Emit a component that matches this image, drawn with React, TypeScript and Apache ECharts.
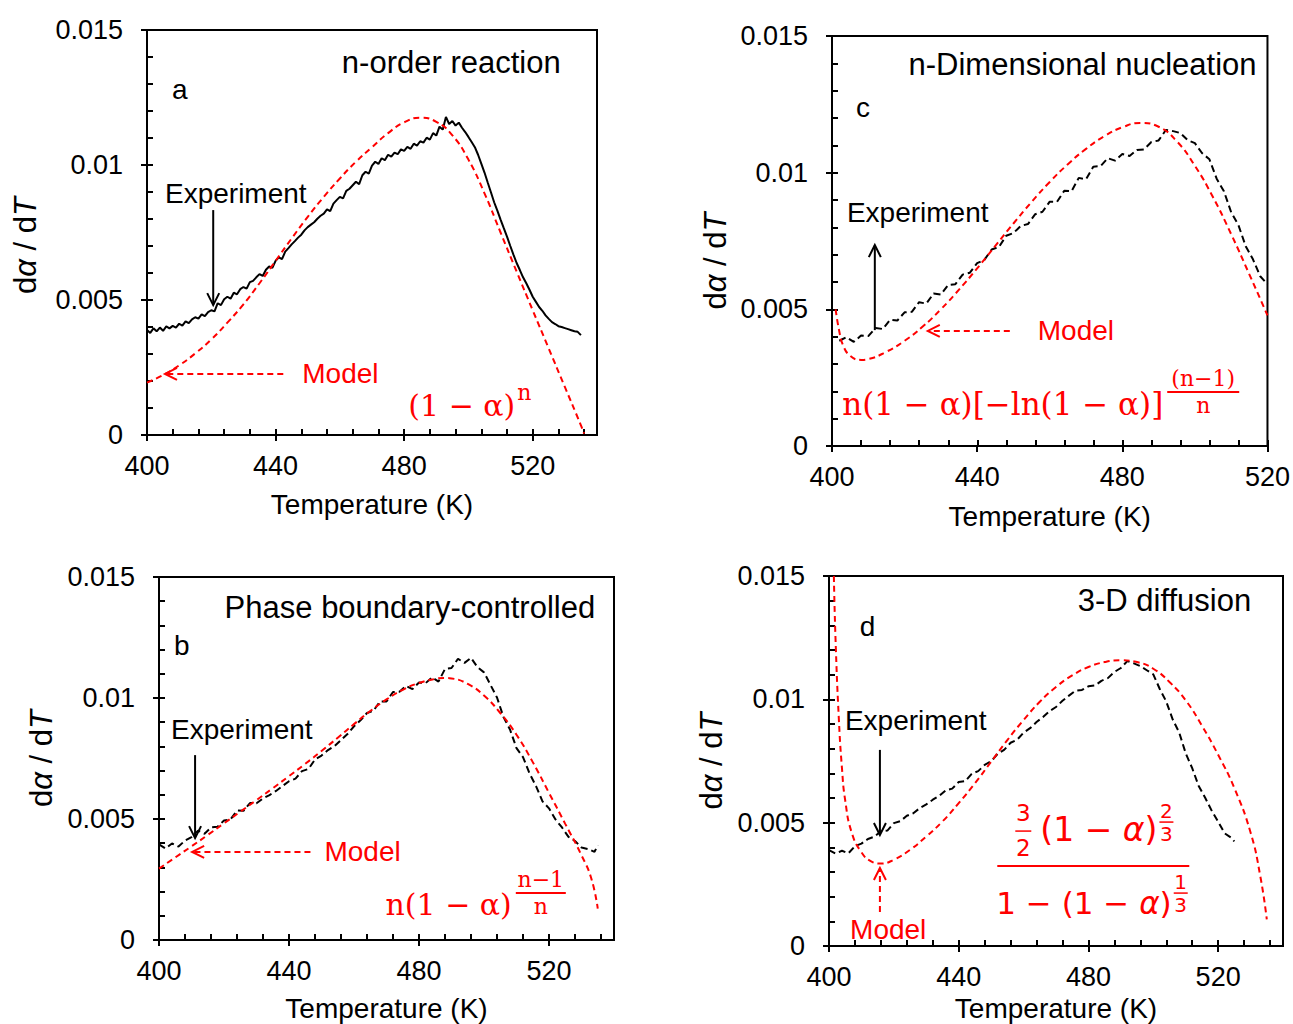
import React, { useEffect, useRef } from "react";
import * as echarts from "echarts";

// ---------- tick values ----------
const xMajorTicks = [400, 440, 480, 520];
const xLabel = "Temperature (K)";
const yLabel = "d{i|α} / d{i|T}";

// ---------- panel a : n-order reaction ----------
const expA = [
  [400, 0.00389], [401, 0.00378], [402, 0.00395], [403, 0.00384], [404, 0.00398], [405, 0.00386],
  [406, 0.00402], [407, 0.00395], [408, 0.00404], [409, 0.00398], [410, 0.00412], [411, 0.00405],
  [412, 0.00421], [413, 0.00414], [414, 0.00428], [415, 0.00436], [416, 0.00431], [417, 0.00447],
  [418, 0.0044], [419, 0.00455], [420, 0.00462], [421, 0.00458], [422, 0.00488], [423, 0.00481],
  [424, 0.00503], [425, 0.00512], [426, 0.00505], [427, 0.00527], [428, 0.00521], [429, 0.0054],
  [430, 0.00548], [431, 0.00542], [432, 0.00566], [433, 0.00571], [434, 0.00584], [435, 0.00596],
  [436, 0.00589], [437, 0.00612], [438, 0.00624], [439, 0.00619], [440, 0.00645], [441, 0.00658],
  [442, 0.00651], [443, 0.00679], [444, 0.00692], [445, 0.00706], [446, 0.00718], [447, 0.00731],
  [448, 0.00742], [449, 0.00758], [450, 0.0077], [451, 0.00779], [452, 0.00788], [453, 0.00801],
  [454, 0.00812], [455, 0.0082], [456, 0.00836], [457, 0.00829], [458, 0.00857], [459, 0.0087],
  [460, 0.00882], [461, 0.00876], [462, 0.00904], [463, 0.00912], [464, 0.00925], [465, 0.00938],
  [466, 0.00929], [467, 0.00962], [468, 0.00975], [469, 0.00968], [470, 0.00998], [471, 0.01012],
  [472, 0.01004], [473, 0.01025], [474, 0.01018], [475, 0.01038], [476, 0.01031], [477, 0.01046],
  [478, 0.0104], [479, 0.01058], [480, 0.01052], [481, 0.01067], [482, 0.0106], [483, 0.01079],
  [484, 0.01072], [485, 0.01088], [486, 0.01083], [487, 0.01101], [488, 0.01094], [489, 0.01118],
  [490, 0.01109], [491, 0.01142], [492, 0.01131], [493, 0.01178], [494, 0.01152], [495, 0.01163],
  [496, 0.01146], [497, 0.01157], [498, 0.01138], [499, 0.01122], [500, 0.01104], [501, 0.01085],
  [502, 0.01066], [503, 0.01038], [504, 0.01005], [505, 0.00972], [506, 0.00935], [507, 0.00899],
  [508, 0.00862], [509, 0.00831], [510, 0.00798], [511, 0.00766], [512, 0.00735], [513, 0.00701],
  [514, 0.00668], [515, 0.00637], [516, 0.00611], [517, 0.00584], [518, 0.00562], [519, 0.00538],
  [520, 0.00512], [521, 0.00493], [522, 0.00474], [523, 0.0046], [524, 0.00443], [525, 0.0043],
  [526, 0.00418], [527, 0.00411], [528, 0.00403], [529, 0.004], [530, 0.00396], [531, 0.00392],
  [532, 0.00388], [533, 0.00384], [534, 0.00382], [535, 0.0037],
];
const modelA = [
  [400, 0.00194], [405, 0.00222], [410, 0.00258], [415, 0.00302], [420, 0.00354], [425, 0.00416],
  [430, 0.00484], [435, 0.00562], [440, 0.00645], [445, 0.00728], [450, 0.00808], [455, 0.00882],
  [460, 0.0095], [465, 0.01012], [470, 0.01066], [475, 0.01118], [480, 0.01158], [485, 0.01175],
  [490, 0.0116], [495, 0.0111], [500, 0.0102], [505, 0.00895], [510, 0.0075], [515, 0.00605],
  [520, 0.00462], [525, 0.0032], [530, 0.00178], [535, 0.00036], [536, 0.00005],
];

// ---------- panel c : n-Dimensional nucleation ----------
const expC = [
  [402, 0.00385], [404, 0.00398], [406, 0.00381], [408, 0.00404], [410, 0.00402], [412, 0.00432],
  [414, 0.00428], [416, 0.00462], [418, 0.00459], [420, 0.00489], [422, 0.00491], [424, 0.00526],
  [426, 0.00521], [428, 0.00558], [430, 0.00554], [432, 0.00589], [434, 0.00592], [436, 0.00627],
  [438, 0.00634], [440, 0.00669], [442, 0.00681], [444, 0.00719], [446, 0.00728], [448, 0.00769],
  [450, 0.00779], [452, 0.00805], [454, 0.00812], [456, 0.00848], [458, 0.00857], [460, 0.00894],
  [462, 0.00893], [464, 0.00934], [466, 0.00932], [468, 0.00981], [470, 0.00976], [472, 0.01022],
  [474, 0.01024], [476, 0.01053], [478, 0.01044], [480, 0.01068], [482, 0.01061], [484, 0.01083],
  [486, 0.01085], [488, 0.01112], [490, 0.01118], [492, 0.01156], [494, 0.01152], [496, 0.01145],
  [498, 0.01119], [500, 0.01108], [502, 0.01071], [504, 0.01049], [506, 0.00978], [508, 0.00932],
  [510, 0.00855], [512, 0.00808], [514, 0.00731], [516, 0.00683], [518, 0.00621], [520, 0.00592],
];
const modelC = [
  [401, 0.005], [402, 0.0042], [403, 0.0037], [405, 0.0033], [408, 0.00315], [410, 0.00318],
  [415, 0.00345], [420, 0.00385], [425, 0.00437], [430, 0.005], [435, 0.00572], [440, 0.0065],
  [445, 0.00732], [450, 0.00814], [455, 0.00893], [460, 0.00966], [465, 0.01031], [470, 0.01087],
  [475, 0.01133], [480, 0.01166], [485, 0.01182], [490, 0.01168], [495, 0.01115], [500, 0.01025],
  [505, 0.0091], [510, 0.00775], [515, 0.00628], [520, 0.00478],
];

// ---------- panel b : Phase boundary-controlled ----------
const expB = [
  [400, 0.00395], [402, 0.00378], [404, 0.00399], [406, 0.00386], [408, 0.00411], [410, 0.00425],
  [412, 0.00452], [414, 0.00439], [416, 0.00465], [418, 0.00468], [420, 0.00494], [422, 0.00498],
  [424, 0.00535], [426, 0.00534], [428, 0.00566], [430, 0.00565], [432, 0.00585], [434, 0.00599],
  [436, 0.00616], [438, 0.00636], [440, 0.00656], [442, 0.00667], [444, 0.00698], [446, 0.00707],
  [448, 0.00746], [450, 0.00762], [452, 0.00785], [454, 0.00801], [456, 0.00826], [458, 0.00851],
  [460, 0.00883], [462, 0.00908], [464, 0.00938], [466, 0.00947], [468, 0.00986], [470, 0.00986],
  [472, 0.01025], [474, 0.01026], [476, 0.0105], [478, 0.01037], [480, 0.01064], [482, 0.01061],
  [484, 0.01085], [486, 0.01068], [488, 0.0112], [490, 0.01124], [492, 0.01162], [494, 0.01145],
  [496, 0.01166], [498, 0.01127], [500, 0.01106], [502, 0.01054], [504, 0.01002], [506, 0.00921],
  [508, 0.0087], [510, 0.00793], [512, 0.00756], [514, 0.00689], [516, 0.00636], [518, 0.00573],
  [520, 0.00544], [522, 0.00498], [524, 0.00465], [526, 0.00426], [528, 0.00409], [530, 0.00382],
  [532, 0.00376], [534, 0.00364], [535, 0.00392],
];
const modelB = [
  [400, 0.00295], [405, 0.00341], [410, 0.00387], [415, 0.00434], [420, 0.00482], [425, 0.0053],
  [430, 0.00578], [435, 0.00627], [440, 0.00677], [445, 0.00728], [450, 0.00781], [455, 0.00836],
  [460, 0.00892], [465, 0.00946], [470, 0.00994], [475, 0.01034], [480, 0.01062], [485, 0.01079],
  [488, 0.01083], [490, 0.01081], [495, 0.01058], [500, 0.0101], [505, 0.00938], [510, 0.00848],
  [515, 0.00735], [520, 0.00608], [525, 0.0048], [530, 0.0035], [533, 0.00255], [535, 0.0013],
];

// ---------- panel d : 3-D diffusion ----------
const expD = [
  [400, 0.00389], [402, 0.00375], [404, 0.00386], [406, 0.00376], [408, 0.00405], [410, 0.00415],
  [412, 0.00434], [414, 0.00443], [416, 0.00465], [418, 0.00468], [420, 0.00498], [422, 0.00506],
  [424, 0.00528], [426, 0.00538], [428, 0.00559], [430, 0.00574], [432, 0.00593], [434, 0.00609],
  [436, 0.00631], [438, 0.00638], [440, 0.00665], [442, 0.00668], [444, 0.00698], [446, 0.00709],
  [448, 0.00734], [450, 0.00749], [452, 0.00779], [454, 0.00795], [456, 0.00824], [458, 0.00836],
  [460, 0.00865], [462, 0.00883], [464, 0.00908], [466, 0.00928], [468, 0.00952], [470, 0.00969],
  [472, 0.00994], [474, 0.01015], [476, 0.01035], [478, 0.01038], [480, 0.01053], [482, 0.01056],
  [484, 0.01075], [486, 0.01086], [488, 0.01111], [490, 0.01127], [492, 0.01155], [494, 0.01146],
  [496, 0.01135], [498, 0.01118], [500, 0.01101], [502, 0.01042], [504, 0.00991], [506, 0.00918],
  [508, 0.00865], [510, 0.00781], [512, 0.00721], [514, 0.00649], [516, 0.00601], [518, 0.00549],
  [520, 0.00504], [522, 0.00457], [524, 0.00439], [525, 0.00424],
];
const modelD = [
  [401.5, 0.015], [402, 0.0125], [403, 0.0093], [404, 0.0072], [405, 0.0059], [407, 0.0046],
  [410, 0.0038], [413, 0.00343], [416, 0.00334], [420, 0.0035], [425, 0.0039], [430, 0.00444],
  [435, 0.00505], [440, 0.00579], [445, 0.0066], [450, 0.00747], [455, 0.00835], [460, 0.00916],
  [465, 0.0099], [470, 0.0105], [475, 0.01097], [480, 0.01131], [485, 0.01151], [490, 0.01158],
  [495, 0.01151], [500, 0.01124], [505, 0.0107], [510, 0.00996], [515, 0.00893], [520, 0.00775],
  [525, 0.0064], [530, 0.0046], [533, 0.00283], [535, 0.00108],
];

const titles = ["n-order reaction", "n-Dimensional nucleation", "Phase boundary-controlled", "3-D diffusion"];
const letters = ["a", "c", "b", "d"];

// ---------- styling / layout ----------
const SANS = "'Liberation Sans', Arial, sans-serif";
const SERIF = "'DejaVu Serif', serif";
const DSANS = "'DejaVu Sans', sans-serif";
const RED = "#ff0000";

const panels = [
  { grid: { left: 147, top: 30, width: 450, height: 405 }, xMax: 540, exp: expA, model: modelA, dashed: false, xGap: 55, yGap: 106, yShift: 26 },
  { grid: { left: 832, top: 36, width: 436, height: 410 }, xMax: 520, exp: expC, model: modelC, dashed: true, xGap: 56, yGap: 101, yShift: 40 },
  { grid: { left: 159, top: 577, width: 455, height: 363 }, xMax: 540, exp: expB, model: modelB, dashed: true, xGap: 54, yGap: 102, yShift: 0 },
  { grid: { left: 829, top: 576, width: 454, height: 370 }, xMax: 540, exp: expD, model: modelD, dashed: true, xGap: 48, yGap: 102, yShift: 0 },
];

// annotation anchors in data coordinates
const notes = [
  { title: [528.7, 0.01381], letter: [407.8, 0.01278], expText: [405.6, 0.00896], expArrow: [[420.6, 0.00833], [420.6, 0.00481]], modelText: [448.3, 0.00226], modelArrow: [[442.4, 0.00226], [405.6, 0.00226]], formula: [481.3, 0.00111] },
  { title: [517, 0.01394], letter: [406.6, 0.01237], expText: [404.1, 0.00856], expArrow: [[411.8, 0.00424], [411.8, 0.00735]], modelText: [456.7, 0.00421], modelArrow: [[449, 0.00421], [426.4, 0.00421]], formula: [402.8, 0.00154] },
  { title: [534.2, 0.01372], letter: [404.6, 0.01219], expText: [403.7, 0.00868], expArrow: [[411.1, 0.00764], [411.1, 0.00421]], modelText: [450.9, 0.00364], modelArrow: [[446.6, 0.00364], [410.2, 0.00364]], formula: [469.7, 0.00145] },
  { title: [530.2, 0.01399], letter: [409.5, 0.01297], expText: [404.9, 0.00916], expArrow: [[415.7, 0.00795], [415.7, 0.0045]], modelText: [406.5, 0.00065], modelArrow: [[415.7, 0.00138], [415.7, 0.00316]], formula: [481.5, 0.00324] },
];

function buildGraphic(chart: any) {
  const els: any[] = [];
  const cv = document.createElement("canvas").getContext("2d") as CanvasRenderingContext2D;
  const mw = (t: string, size: number, fam: string) => {
    cv.font = `${size}px ${fam}`;
    return cv.measureText(t).width;
  };
  const P = (i: number, pt: number[]) => chart.convertToPixel({ xAxisIndex: 2 * i, yAxisIndex: 2 * i }, pt);
  const text = (x: number, y: number, s: string, size: number, fam: string, color = "#000", align = "left", rich?: any) => {
    els.push({
      type: "text", x, y, silent: true, z: 100,
      style: { text: s, fontSize: size, fontFamily: fam, fill: color, textAlign: align, align, textVerticalAlign: "middle", verticalAlign: "middle", rich },
    });
  };
  const seg = (x1: number, y1: number, x2: number, y2: number, color: string, dash = false, w = 2) => {
    els.push({ type: "line", silent: true, z: 100, shape: { x1, y1, x2, y2 }, style: { stroke: color, lineWidth: w, lineDash: dash ? [6, 4] : null } });
  };
  const arrow = (i: number, a: number[], b: number[], color: string, dash: boolean) => {
    const [x1, y1] = P(i, a);
    const [x2, y2] = P(i, b);
    seg(x1, y1, x2, y2, color, dash);
    const ang = Math.atan2(y2 - y1, x2 - x1);
    const L = 12, W = 6;
    const bx = x2 - L * Math.cos(ang), by = y2 - L * Math.sin(ang);
    const nx = -Math.sin(ang), ny = Math.cos(ang);
    els.push({ type: "polyline", silent: true, z: 100, shape: { points: [[bx + W * nx, by + W * ny], [x2, y2], [bx - W * nx, by - W * ny]] }, style: { stroke: color, lineWidth: 2, fill: null } });
  };

  notes.forEach((n, i) => {
    const t = P(i, n.title);
    text(t[0], t[1], titles[i], 31, SANS, "#000", "right");
    const l = P(i, n.letter);
    text(l[0], l[1], letters[i], 28, SANS);
    const e = P(i, n.expText);
    text(e[0], e[1], "Experiment", 28, SANS);
    arrow(i, n.expArrow[0], n.expArrow[1], "#000", false);
    const m = P(i, n.modelText);
    text(m[0], m[1], "Model", 28, SANS, RED);
    arrow(i, n.modelArrow[0], n.modelArrow[1], RED, true);
  });

  // formula a
  {
    const [L, Y] = P(0, notes[0].formula);
    const s = "(1 − α)";
    text(L, Y, s, 30, SERIF, RED);
    text(L + mw(s, 30, SERIF) + 2, Y - 13, "n", 22, SERIF, RED);
  }
  // formula c
  {
    const [L, Y] = P(1, notes[1].formula);
    const s = "n(1 − α)[−ln(1 − α)]";
    text(L, Y, s, 31, SERIF, RED);
    const fx = L + mw(s, 31, SERIF) + 40;
    text(fx, Y - 25, "(n−1)", 22, SERIF, RED, "center");
    seg(fx - 36, Y - 12, fx + 36, Y - 12, RED);
    text(fx, Y + 2, "n", 22, SERIF, RED, "center");
  }
  // formula b
  {
    const [L, Y] = P(2, notes[2].formula);
    const s = "n(1 − α)";
    text(L, Y, s, 30, SERIF, RED);
    const fx = L + mw(s, 30, SERIF) + 29;
    text(fx, Y - 25, "n−1", 22, SERIF, RED, "center");
    seg(fx - 25, Y - 12, fx + 25, Y - 12, RED);
    text(fx, Y + 2, "n", 22, SERIF, RED, "center");
  }
  // formula d
  {
    const [cx, cy] = P(3, notes[3].formula);
    const FS = 33;
    const rich = { i: { fontStyle: "italic", fontSize: FS, fontFamily: DSANS, fill: RED, color: RED } };
    seg(cx - 96, cy, cx + 96, cy, RED);
    text(cx - 70, cy - 53, "3", 23, DSANS, RED, "center");
    seg(cx - 78, cy - 35, cx - 62, cy - 35, RED, false, 1.5);
    text(cx - 70, cy - 18, "2", 23, DSANS, RED, "center");
    const num = "(1 − α)";
    const nl = cx - 53;
    text(nl, cy - 37, "(1 − {i|α})", FS, DSANS, RED, "left", rich);
    const ne = nl + mw(num, FS, DSANS) + 9;
    text(ne, cy - 55, "2", 20, DSANS, RED, "center");
    seg(ne - 7, cy - 44, ne + 7, cy - 44, RED, false, 1.5);
    text(ne, cy - 32, "3", 20, DSANS, RED, "center");
    const den = "1 − (1 − α)";
    const dl = cx - 97;
    text(dl, cy + 37, "1 − (1 − {i|α})", 31, DSANS, RED, "left", { i: { ...rich.i, fontSize: 31 } });
    const de = dl + mw(den, 31, DSANS) + 9;
    text(de, cy + 16, "1", 20, DSANS, RED, "center");
    seg(de - 7, cy + 27, de + 7, cy + 27, RED, false, 1.5);
    text(de, cy + 39, "3", 20, DSANS, RED, "center");
  }
  return els;
}

export default function App() {
  const ref = useRef<HTMLDivElement>(null);
  useEffect(() => {
    if (!ref.current) return;
    const chart = echarts.init(ref.current, null, { renderer: "svg" });
    const grids: any[] = [];
    const xAxes: any[] = [];
    const yAxes: any[] = [];
    const series: any[] = [];
    panels.forEach((p, i) => {
      const nameStyle = {
        fontSize: 31, fontFamily: SANS, color: "#000", padding: [0, p.yShift, 0, 0],
        rich: { i: { fontStyle: "italic", fontSize: 31, fontFamily: SANS, color: "#000" } },
      };
      grids.push({ ...p.grid, show: true, borderColor: "#000", borderWidth: 2, backgroundColor: "transparent" });
      grids.push({ ...p.grid, show: false });
      xAxes.push({
        type: "value", gridIndex: 2 * i, min: 400, max: p.xMax, interval: 40,
        name: xLabel, nameLocation: "middle", nameGap: p.xGap, nameTextStyle: { fontSize: 28, fontFamily: SANS, color: "#000" },
        axisLine: { show: true, onZero: false, lineStyle: { color: "#000", width: 2 } },
        axisTick: { show: true, inside: false, length: 6, customValues: xMajorTicks, lineStyle: { color: "#000", width: 2 } },
        axisLabel: { show: true, customValues: xMajorTicks, margin: 17, fontSize: 27, fontFamily: SANS, color: "#000" },
        splitLine: { show: false },
      });
      xAxes.push({
        type: "value", gridIndex: 2 * i + 1, min: 400, max: p.xMax, interval: 8,
        axisLine: { show: false }, axisLabel: { show: false }, splitLine: { show: false },
        axisTick: { show: true, inside: true, length: 6, lineStyle: { color: "#000", width: 2 } },
      });
      yAxes.push({
        type: "value", gridIndex: 2 * i, min: 0, max: 0.015, interval: 0.005,
        name: yLabel, nameLocation: "middle", nameRotate: 90, nameGap: p.yGap, nameTextStyle: nameStyle,
        axisLine: { show: true, onZero: false, lineStyle: { color: "#000", width: 2 } },
        axisTick: { show: true, inside: false, length: 6, lineStyle: { color: "#000", width: 2 } },
        axisLabel: { show: true, margin: 24, fontSize: 27, fontFamily: SANS, color: "#000" },
        splitLine: { show: false },
      });
      yAxes.push({
        type: "value", gridIndex: 2 * i + 1, min: 0, max: 0.015, interval: 0.001,
        axisLine: { show: false }, axisLabel: { show: false }, splitLine: { show: false },
        axisTick: { show: true, inside: true, length: 6, lineStyle: { color: "#000", width: 2 } },
      });
      series.push({
        type: "line", xAxisIndex: 2 * i, yAxisIndex: 2 * i, data: p.exp, symbol: "none", showSymbol: false,
        lineStyle: { color: "#000", width: 2, type: p.dashed ? [7, 4] : "solid" }, z: 2,
      });
      series.push({
        type: "line", xAxisIndex: 2 * i, yAxisIndex: 2 * i, data: p.model, symbol: "none", showSymbol: false,
        smooth: true,
        lineStyle: { color: RED, width: 2, type: [6, 4] }, z: 3,
      });
    });
    chart.setOption({ animation: false, backgroundColor: "#fff", grid: grids, xAxis: xAxes, yAxis: yAxes, series });
    chart.setOption({ graphic: buildGraphic(chart) });
    return () => chart.dispose();
  }, []);
  return <div ref={ref} style={{ position: "absolute", left: 0, top: 0, width: 1293, height: 1024 }} />;
}
